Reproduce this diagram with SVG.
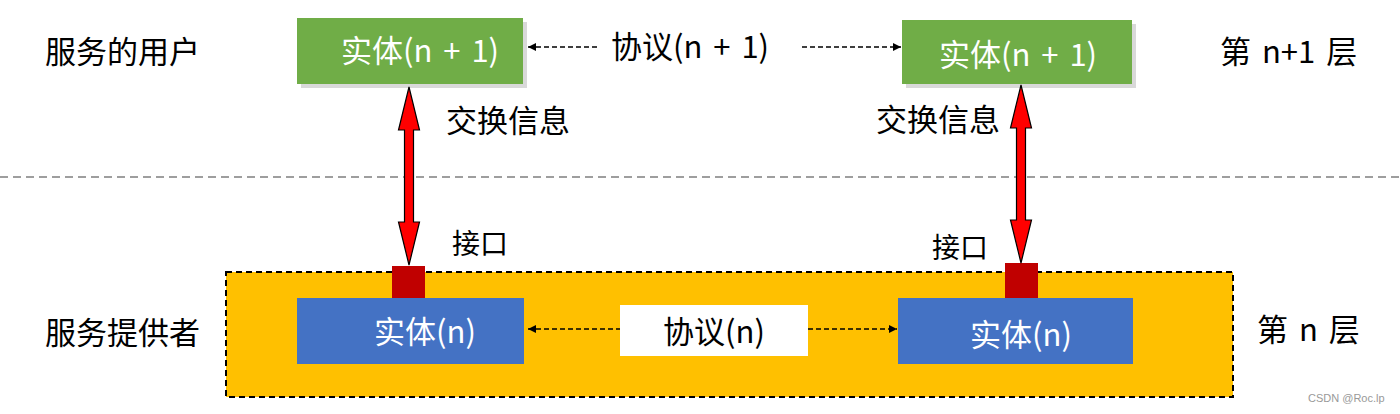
<svg xmlns="http://www.w3.org/2000/svg" width="1400" height="414" viewBox="0 0 1400 414">
<style>
text{font-family:"Noto Sans CJK SC","Microsoft YaHei",sans-serif;}
.lbl{font-size:31px;fill:#000;word-spacing:4px;}
.ent{font-size:31px;fill:#fff;text-anchor:middle;word-spacing:4px;}
.proto{font-size:31px;fill:#000;text-anchor:middle;word-spacing:4px;}
.green{fill:#70AD47;}
.blue{fill:#4472C4;}
.shadow{fill:#d9d9d9;}
.port{fill:#C00000;}
.dash{stroke:#000;stroke-width:1.5;stroke-dasharray:5 3;fill:none;}
.big{fill:#FF0000;stroke:#000;stroke-width:1.2;}
</style>
<defs>
<marker id="ah" viewBox="0 0 10 10" refX="10" refY="5" markerWidth="10" markerHeight="8" markerUnits="userSpaceOnUse" orient="auto-start-reverse">
<path d="M0,0 L10,5 L0,10 Z" fill="#000"/>
</marker>
</defs>
<rect width="1400" height="414" fill="#fff"/>
<line x1="0" y1="177" x2="1400" y2="177" stroke="#7f7f7f" stroke-width="1.5" stroke-dasharray="8 5"/>
<g id="layer-n">
<rect x="226" y="272" width="1007" height="125" fill="#FFC000" stroke="#000" stroke-width="2" stroke-dasharray="6 4"/>
</g>
<g id="labels">
<text class="lbl" x="45" y="63">服务的用户</text>
<text class="lbl" x="45" y="344">服务提供者</text>
<text class="lbl" x="1220" y="63">第 n+1 层</text>
<text class="lbl" x="1257" y="341">第 n 层</text>
<text class="lbl" x="446" y="132">交换信息</text>
<text class="lbl" x="876" y="131">交换信息</text>
<text class="lbl" x="452" y="254" style="font-size:28px">接口</text>
<text class="lbl" x="932" y="258" style="font-size:28px">接口</text>
</g>
<g id="entity-n1-left">
<rect class="shadow" x="301" y="22" width="226" height="66"/>
<rect class="green" x="297" y="18" width="226" height="66"/>
<text class="ent" x="420" y="62">实体(n + 1)</text>
</g>
<g id="entity-n1-right">
<rect class="shadow" x="906" y="24" width="230" height="64"/>
<rect class="green" x="902" y="20" width="230" height="64"/>
<text class="ent" x="1018" y="66">实体(n + 1)</text>
</g>
<g id="entity-n-left">
<rect class="blue" x="297" y="298" width="227" height="66"/>
<text class="ent" x="425" y="343">实体(n)</text>
</g>
<g id="entity-n-right">
<rect class="blue" x="898" y="298" width="235" height="66"/>
<text class="ent" x="1021" y="346">实体(n)</text>
</g>
<g id="protocol-n">
<rect x="620" y="305" width="188" height="51" fill="#fff"/>
<text class="proto" x="714" y="343">协议(n)</text>
</g>
<g id="protocol-n1">
<text class="proto" x="690" y="58">协议(n + 1)</text>
</g>
<g id="port-left"><rect class="port" x="392" y="266" width="33" height="32"/></g>
<g id="port-right"><rect class="port" x="1005" y="263" width="33" height="35"/></g>
<g id="connectors">
<line class="dash" x1="528" y1="47" x2="600" y2="47" marker-start="url(#ah)"/>
<line class="dash" x1="802" y1="47" x2="901" y2="47" marker-end="url(#ah)"/>
<line class="dash" x1="528" y1="329" x2="620" y2="329" marker-start="url(#ah)"/>
<line class="dash" x1="808" y1="329" x2="897" y2="329" marker-end="url(#ah)"/>
<polygon class="big" points="409,87 419.5,130 413.5,130 413.5,222 419.5,222 409,265 398.5,222 404.5,222 404.5,130 398.5,130"/>
<polygon class="big" points="1021,85 1031.5,128 1025.5,128 1025.5,220 1031.5,220 1021,263 1010.5,220 1016.5,220 1016.5,128 1010.5,128"/>
</g>
<text x="1308" y="402" style="font-family:'Liberation Sans',Arial,sans-serif;font-size:11px;fill:#999">CSDN @Roc.lp</text>
</svg>
